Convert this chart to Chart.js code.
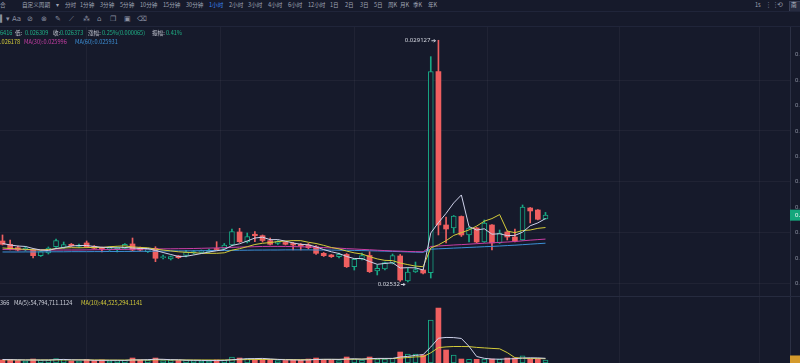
<!DOCTYPE html>
<html lang="zh">
<head>
<meta charset="utf-8">
<title>K线 1小时</title>
<script src="https://cdn.jsdelivr.net/npm/chart.js@4.4.1/dist/chart.umd.min.js"></script>
<style>
  html, body { margin: 0; padding: 0; }
  body {
    width: 800px; height: 363px; overflow: hidden; position: relative;
    background: #161a2b;
    font-family: "Noto Sans CJK SC", "Noto Sans", sans-serif;
    color: #a0a5b5;
  }
  .t { position: absolute; white-space: nowrap; font-size: 5.6px; line-height: 8px; }
  .ico { position: absolute; white-space: nowrap; font-size: 7px; line-height: 8px; color: #8c91a2; font-family: "DejaVu Sans", sans-serif; }
  .hline { position: absolute; left: 0; width: 800px; height: 1px; background: #20253a; }
  #main { position: absolute; left: 0; top: 27px; }
  #vol { position: absolute; left: 0; top: 297px; }
  .box { position: absolute; left: 789px; top: 1px; width: 14px; height: 9px; background: #262b40; border: 1px solid #3a4058; }
</style>
</head>
<body>
<div id="toolbar"></div>
<div class="hline" style="top:11px"></div>
<div class="hline" style="top:26px"></div>
<canvas id="main" width="850" height="270"></canvas>
<div class="hline" style="top:296px;background:#262b3f"></div>
<canvas id="vol" width="850" height="66"></canvas>
<div id="info"></div>

<script>
// hourly candles (index 0 = leftmost visible candle)
const opens = [0.025966,0.025914,0.025861,0.025824,0.025824,0.025735,0.025777,0.025876,0.025864,0.025914,
  0.025880,0.025935,0.025880,0.025861,0.025832,0.025832,0.025851,0.025919,0.025856,0.025798,
  0.025851,0.025703,0.025683,0.025730,0.025738,0.025777,0.025788,0.025798,0.025848,0.025851,
  0.025903,0.026108,0.025950,0.026072,0.026050,0.025971,0.025927,0.025943,0.025927,0.025911,
  0.025903,0.025876,0.025772,0.025746,0.025719,0.025754,0.025561,0.025678,0.025738,0.025494,
  0.025525,0.025615,0.025730,0.025336,0.025478,0.025509,0.025469,0.028632,0.026218,0.026171,
  0.026352,0.026061,0.026171,0.025950,0.026218,0.025935,0.026108,0.026029,0.025982,0.026486,
  0.026454,0.026312];
const highs = [0.026061,0.025982,0.025887,0.025880,0.025840,0.025809,0.025872,0.025998,0.025950,0.025927,
  0.025919,0.025966,0.025895,0.025872,0.025880,0.025872,0.025927,0.026013,0.025872,0.025848,
  0.025876,0.025746,0.025730,0.025738,0.025817,0.025817,0.025824,0.025840,0.025955,0.025927,
  0.026155,0.026166,0.026092,0.026113,0.026061,0.026013,0.025974,0.025958,0.025943,0.025927,
  0.025927,0.025895,0.025785,0.025754,0.025777,0.025769,0.025691,0.025777,0.025798,0.025588,
  0.025635,0.025761,0.025754,0.025541,0.025635,0.025517,0.028869,0.029127,0.026344,0.026368,
  0.026360,0.026187,0.026179,0.026297,0.026226,0.026139,0.026124,0.026155,0.026533,0.026494,
  0.026462,0.026416];
const lows = [0.025903,0.025824,0.025809,0.025809,0.025698,0.025722,0.025761,0.025864,0.025848,0.025880,
  0.025864,0.025864,0.025840,0.025793,0.025817,0.025793,0.025840,0.025809,0.025809,0.025785,
  0.025640,0.025683,0.025667,0.025691,0.025714,0.025761,0.025777,0.025785,0.025824,0.025840,
  0.025887,0.025943,0.025935,0.025955,0.025950,0.025903,0.025911,0.025903,0.025824,0.025824,
  0.025840,0.025754,0.025722,0.025706,0.025698,0.025549,0.025509,0.025667,0.025470,0.025431,
  0.025509,0.025604,0.025330,0.025320,0.025470,0.025446,0.025383,0.026061,0.025935,0.026092,
  0.026037,0.025950,0.025935,0.025943,0.025824,0.025927,0.025982,0.025950,0.025974,0.026250,
  0.026297,0.026309];
const closes = [0.025914,0.025840,0.025824,0.025856,0.025735,0.025798,0.025856,0.025974,0.025911,0.025892,
  0.025903,0.025876,0.025851,0.025840,0.025864,0.025864,0.025914,0.025824,0.025824,0.025835,
  0.025694,0.025719,0.025719,0.025703,0.025793,0.025801,0.025809,0.025824,0.025832,0.025903,
  0.026113,0.025955,0.026037,0.026050,0.025974,0.025914,0.025958,0.025914,0.025903,0.025887,
  0.025861,0.025772,0.025735,0.025719,0.025757,0.025561,0.025678,0.025738,0.025483,0.025536,
  0.025628,0.025738,0.025352,0.025478,0.025517,0.025462,0.028632,0.026218,0.026155,0.026360,
  0.026061,0.026171,0.025950,0.026250,0.025935,0.026092,0.026029,0.025966,0.026502,0.026439,
  0.026308,0.026373];

// moving-average lines as drawn
const ma5 = [0.025927,0.025903,0.025887,0.025880,0.025848,0.025824,0.025817,0.025848,0.025864,0.025887,
  0.025895,0.025895,0.025880,0.025867,0.025864,0.025856,0.025864,0.025856,0.025848,0.025848,
  0.025817,0.025785,0.025754,0.025722,0.025725,0.025746,0.025769,0.025793,0.025812,0.025832,
  0.025895,0.025922,0.025966,0.026013,0.026026,0.025987,0.025988,0.025963,0.025935,0.025914,
  0.025906,0.025873,0.025831,0.025796,0.025769,0.025722,0.025689,0.025691,0.025642,0.025599,
  0.025612,0.025624,0.025541,0.025546,0.025543,0.025509,0.026092,0.026254,0.026401,0.026566,
  0.026691,0.026193,0.026139,0.026158,0.026073,0.026080,0.026051,0.026054,0.026105,0.026206,
  0.026251,0.026319];
const ma10 = [0.025856,0.025848,0.025840,0.025835,0.025828,0.025824,0.025832,0.025845,0.025856,0.025861,
  0.025859,0.025862,0.025865,0.025864,0.025876,0.025883,0.025889,0.025873,0.025865,0.025859,
  0.025839,0.025823,0.025810,0.025796,0.025788,0.025782,0.025772,0.025772,0.025772,0.025780,
  0.025821,0.025845,0.025876,0.025911,0.025930,0.025941,0.025957,0.025965,0.025972,0.025971,
  0.025946,0.025927,0.025897,0.025864,0.025842,0.025807,0.025779,0.025761,0.025719,0.025684,
  0.025661,0.025657,0.025619,0.025594,0.025571,0.025561,0.025856,0.025905,0.025971,0.026054,
  0.026097,0.026141,0.026201,0.026278,0.026319,0.026382,0.026122,0.026097,0.026131,0.026139,
  0.026165,0.026178];
const ma30 = [0.025832,0.025831,0.025829,0.025828,0.025826,0.025824,0.025824,0.025824,0.025824,0.025824,
  0.025824,0.025826,0.025828,0.025829,0.025831,0.025832,0.025834,0.025835,0.025837,0.025839,
  0.025840,0.025842,0.025843,0.025845,0.025846,0.025848,0.025851,0.025854,0.025857,0.025861,
  0.025865,0.025870,0.025873,0.025876,0.025880,0.025881,0.025881,0.025880,0.025878,0.025875,
  0.025872,0.025867,0.025862,0.025857,0.025853,0.025846,0.025840,0.025834,0.025828,0.025821,
  0.025815,0.025810,0.025806,0.025801,0.025798,0.025796,0.025880,0.025887,0.025895,0.025903,
  0.025909,0.025916,0.025924,0.025931,0.025938,0.025944,0.025950,0.025958,0.025969,0.025979,
  0.025988,0.025996];
const ma60 = [0.025793,0.025793,0.025793,0.025794,0.025794,0.025794,0.025796,0.025796,0.025796,0.025798,
  0.025798,0.025798,0.025799,0.025799,0.025801,0.025801,0.025802,0.025802,0.025804,0.025804,
  0.025806,0.025807,0.025809,0.025810,0.025810,0.025812,0.025813,0.025815,0.025817,0.025817,
  0.025818,0.025820,0.025821,0.025823,0.025823,0.025824,0.025824,0.025826,0.025826,0.025826,
  0.025826,0.025824,0.025824,0.025823,0.025821,0.025820,0.025817,0.025815,0.025812,0.025809,
  0.025806,0.025802,0.025798,0.025794,0.025790,0.025787,0.025837,0.025843,0.025848,0.025854,
  0.025859,0.025865,0.025870,0.025876,0.025881,0.025887,0.025894,0.025900,0.025908,0.025916,
  0.025924,0.025931];

// volume (millions) and its averages
const volumes = [54,63,45,36,71,54,54,80,63,36, 36,63,45,54,36,45,54,89,54,54,
  89,45,54,45,54,45,36,36,54,54, 107,89,80,63,71,63,45,45,54,54,
  71,89,63,54,45,107,71,54,107,71, 71,89,196,161,161,143,768,982,232,143,
  71,66,66,71,71,66,89,89,130,71, 71,54];
const volMa5 = [63,59,57,54,54,52,52,59,64,57, 54,55,48,48,48,48,46,55,55,59,
  68,66,59,57,50,48,46,43,45,46, 57,68,77,79,82,73,64,57,55,52,
  55,63,66,66,64,71,75,68,77,82, 82,82,107,118,136,150,286,443,457,454,
  439,298,116,84,70,68,73,77,89,93, 91,84];
const volMa10 = [57,57,55,55,55,55,55,55,55,55, 57,55,54,54,52,52,52,54,54,54,
  57,57,55,55,54,54,54,54,52,54, 57,59,61,61,63,64,64,63,61,59,
  61,63,64,64,64,66,68,70,71,75, 77,79,88,98,109,113,182,275,288,295,
  295,293,279,270,261,254,186,96,86,79, 79,77];

const priceTicks = [0.0253, 0.0257, 0.0261, 0.0265, 0.0269, 0.0273, 0.0277, 0.0281, 0.0285, 0.0289];
const volTicks = [500];
const gridCols = [11, 28.5, 46, 63.4, 80.7, 99];

const RED = '#ef5f60';
const GREEN = '#18a985';
const BG = '#161a2b';
const GRID = 'rgba(255,255,255,0.045)';
const C_MA5 = '#cfd2ea', C_MA10 = '#d4cc3a', C_MA30 = '#c93ea6', C_MA60 = '#3c8fd6';

const idx = opens.map((_, i) => i);
const up = idx.map(i => closes[i] >= opens[i]);
const asLine = arr => arr.map((v, i) => ({ x: i, y: v }));

const xAxis = {
  type: 'linear', min: -0.327, max: 102.97, offset: false,
  afterBuildTicks: s => { s.ticks = gridCols.map(v => ({ value: v })); },
  afterFit: s => { s.height = 0; },
  ticks: { display: false },
  grid: { color: GRID, drawTicks: false, offset: false },
  border: { display: false }
};

function lineSet(data, color) {
  return { type: 'line', data: asLine(data), borderColor: color, borderWidth: 1,
    pointRadius: 0, tension: 0, order: 0 };
}

// labels for high / low and the last price tag
const markers = {
  id: 'markers',
  afterDatasetsDraw(chart) {
    const { ctx, scales: { x, y }, chartArea } = chart;
    ctx.save();
    ctx.font = '6px "Noto Sans", sans-serif';
    ctx.textBaseline = 'middle';
    ctx.fillStyle = '#d3d6e0';
    ctx.strokeStyle = '#d3d6e0';
    ctx.lineWidth = 1;
    const hi = highs.indexOf(Math.max(...highs));
    const lo = lows.indexOf(Math.min(...lows));
    const pts = [[hi, highs[hi], 0], [lo, lows[lo], 2]];
    pts.forEach(([i, v, dy]) => {
      const px = x.getPixelForValue(i), py = y.getPixelForValue(v) + dy;
      ctx.textAlign = 'right';
      ctx.fillText(String(Number(v.toFixed(6))), px - 8, py);
      ctx.beginPath();
      ctx.moveTo(px - 7, py + 0.5); ctx.lineTo(px - 3, py + 0.5);
      ctx.moveTo(px - 4.5, py - 1); ctx.lineTo(px - 3, py + 0.5); ctx.lineTo(px - 4.5, py + 2);
      ctx.stroke();
    });
    const last = closes.length - 1;
    const ty = y.getPixelForValue(closes[last]);
    ctx.fillStyle = '#14a77c';
    ctx.fillRect(chartArea.right, ty - 5.5, 60, 11);
    ctx.fillStyle = '#ffffff';
    ctx.textAlign = 'left';
    ctx.fillText(closes[last].toFixed(6), chartArea.right + 5, ty);
    ctx.restore();
  }
};

const volTag = {
  id: 'volTag',
  afterDatasetsDraw(chart) {
    const { ctx, scales: { y }, chartArea } = chart;
    const last = volumes.length - 1;
    const ty = y.getPixelForValue(volumes[last]);
    ctx.save();
    ctx.fillStyle = '#d49a2c';
    ctx.fillRect(chartArea.right, ty - 4.5, 60, 9);
    ctx.restore();
  }
};

new Chart(document.getElementById('main'), {
  type: 'bar',
  data: {
    datasets: [
      lineSet(ma5, C_MA5), lineSet(ma10, C_MA10), lineSet(ma30, C_MA30), lineSet(ma60, C_MA60),
      {
        data: idx.map(i => ({ x: i, y: [opens[i], closes[i]] })),
        backgroundColor: idx.map(i => up[i] ? BG : RED),
        borderColor: idx.map(i => up[i] ? GREEN : RED),
        borderWidth: idx.map(i => up[i] ? 1 : 0),
        borderSkipped: false, barThickness: 5, minBarLength: 1, grouped: false, order: 2
      },
      {
        data: idx.map(i => ({ x: i, y: [lows[i], highs[i]] })),
        backgroundColor: idx.map(i => up[i] ? GREEN : RED),
        barThickness: 1, grouped: false, order: 3
      }
    ]
  },
  options: {
    responsive: false, animation: false,
    layout: { padding: 0 },
    plugins: { legend: { display: false }, tooltip: { enabled: false } },
    scales: {
      x: xAxis,
      y: {
        position: 'right', min: 0.025084, max: 0.029336,
        afterBuildTicks: s => { s.ticks = priceTicks.map(v => ({ value: v })); },
        afterFit: s => { s.width = 60; s.paddingTop = 0; s.paddingBottom = 0; },
        ticks: { color: '#8c91a2', font: { size: 6 }, padding: 5, callback: v => v.toFixed(6) },
        grid: { color: c => c.index % 2 === 0 ? GRID : 'transparent', drawTicks: false },
        border: { display: true, color: '#2b3044' }
      }
    }
  },
  plugins: [markers]
});

new Chart(document.getElementById('vol'), {
  type: 'bar',
  data: {
    datasets: [
      lineSet(volMa5, C_MA5), lineSet(volMa10, C_MA10),
      {
        data: idx.map(i => ({ x: i, y: volumes[i] })),
        backgroundColor: idx.map(i => up[i] ? BG : RED),
        borderColor: idx.map(i => up[i] ? GREEN : RED),
        borderWidth: idx.map(i => up[i] ? 1 : 0),
        borderSkipped: false, barThickness: 5, grouped: false, order: 2
      }
    ]
  },
  options: {
    responsive: false, animation: false,
    layout: { padding: 0 },
    plugins: { legend: { display: false }, tooltip: { enabled: false } },
    scales: {
      x: xAxis,
      y: {
        position: 'right', min: 0, max: 1180,
        afterBuildTicks: s => { s.ticks = volTicks.map(v => ({ value: v })); },
        afterFit: s => { s.width = 60; s.paddingTop = 0; s.paddingBottom = 0; },
        ticks: { color: '#8c91a2', font: { size: 6 }, padding: 5, callback: v => v + 'M' },
        grid: { display: false },
        border: { display: true, color: '#2b3044' }
      }
    }
  },
  plugins: [volTag]
});

// toolbar and legend texts
const periods = [['合', 0], ['自定义周期', 22], ['▾', 56], ['分时', 65], ['1分钟', 80], ['3分钟', 100],
  ['5分钟', 120], ['10分钟', 140], ['15分钟', 163], ['30分钟', 186], ['1小时', 209], ['2小时', 229],
  ['3小时', 248], ['4小时', 268], ['6小时', 288], ['12小时', 308], ['1日', 330], ['2日', 345],
  ['3日', 360], ['5日', 374], ['周K', 388], ['月K', 400], ['季K', 413], ['年K', 428], ['1s', 755]];
const icons = [['▍', 0], ['▾', 6], ['Aa', 12], ['⊘', 27], ['⊗', 41], ['✎', 55], ['⟋', 69],
  ['⁂', 83], ['⌂', 97], ['❐', 110], ['▣', 124], ['⌫', 137], ['⋮⋮', 765], ['⟲', 777]];
const G = '#1fb287', L = '#c4c7d2', W = '#cfd2dc';
const infoRows = [
  [29, [[0, '6416', G], [15, '低:', L], [25, '0.026309', G], [53, '收:', L], [60, '0.026373', G],
        [88, '涨幅:', L], [102, '0.25%(0.000065)', G], [152, '振幅:', L], [166, '0.41%', G]]],
  [38, [[0, '.026178', C_MA10], [24, 'MA(30):0.025996', C_MA30], [75, 'MA(60):0.025931', C_MA60]]],
  [299, [[0, '366', W], [14, 'MA(5):54,794,711.1124', W], [81, 'MA(10):44,525,294.1141', C_MA10]]]
];

let html = '';
periods.forEach(([txt, left]) => {
  const col = txt === '1小时' ? '#3a86f5' : '#a0a5b5';
  html += `<div class="t" style="left:${left}px;top:1px;color:${col}">${txt}</div>`;
});
icons.forEach(([txt, left]) => {
  const top = left > 700 ? 1 : 15;
  html += `<div class="ico" style="left:${left}px;top:${top}px">${txt}</div>`;
});
html += '<div class="box"></div><div class="t" style="left:791px;top:1px;color:#c4c7d2">南</div>';
document.getElementById('toolbar').innerHTML = html;

let info = '';
infoRows.forEach(([top, items]) => {
  items.forEach(([left, txt, col]) => {
    info += `<div class="t" style="left:${left}px;top:${top}px;color:${col}">${txt}</div>`;
  });
});
document.getElementById('info').innerHTML = info;
</script>
</body>
</html>
